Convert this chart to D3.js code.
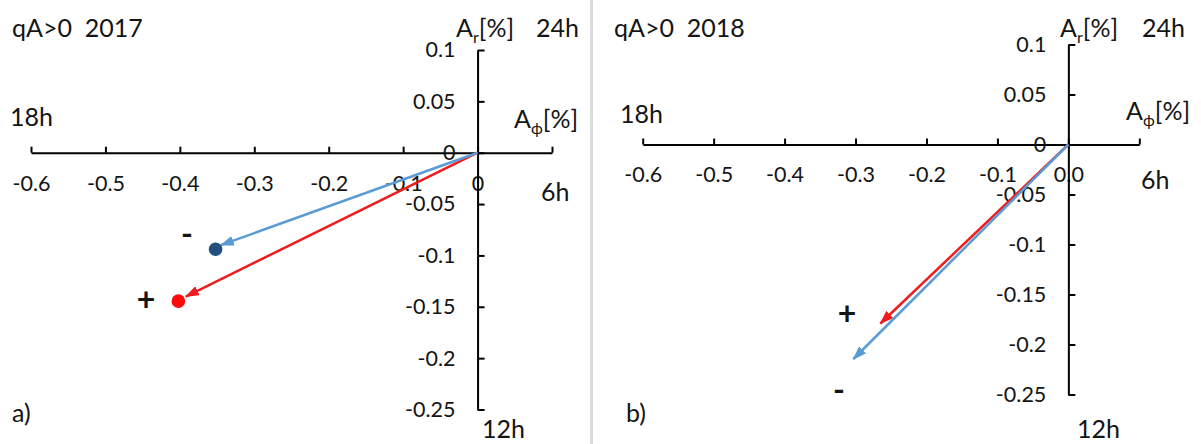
<!DOCTYPE html>
<html><head><meta charset="utf-8">
<script src="https://cdn.jsdelivr.net/npm/d3@7"></script>
<style>
body{margin:0;background:#fff}
svg{display:block}
text{font-family:Lato,"Open Sans","DejaVu Sans",sans-serif;fill:#141414}
</style>
</head><body><svg id="c" width="1201" height="444"></svg>
<script>
// ---------- data ----------
const xTicks=[-0.6,-0.5,-0.4,-0.3,-0.2,-0.1,0,0.1];
const xTickLabels2017=["-0.6","-0.5","-0.4","-0.3","-0.2","-0.1","0",""];
const xTickLabels2018=["-0.6","-0.5","-0.4","-0.3","-0.2","-0.1","0.0",""];
const yTicks=[0.1,0.05,0,-0.05,-0.1,-0.15,-0.2,-0.25];
const yTickLabels=["0.1","0.05","0","-0.05","-0.1","-0.15","-0.2","-0.25"];
const seriesNames=["+","-"];
// arrow end points [A_phi, A_r] per series (+, -)
const arrowPhi2017=[-0.392,-0.345];
const arrowR2017=[-0.140,-0.090];
const dotPhi2017=[-0.402,-0.352];
const dotR2017=[-0.1445,-0.094];
const arrowPhi2018=[-0.265,-0.303];
const arrowR2018=[-0.179,-0.2145];
const titles=["qA>0  2017","qA>0  2018"];
const panelTags=["a)","b)"];

// ---------- styles ----------
const arrowColors=["#ee1c1c","#5b9bd5"];
const dotColors=["#ff0a0a","#22507f"];

const svg=d3.select("#c");
svg.append("rect").attr("x",590).attr("y",0).attr("width",3).attr("height",444).attr("fill","#dcdcdc");

const defs=svg.append("defs");
arrowColors.forEach((c,i)=>{
  defs.append("marker").attr("id","ah"+i).attr("viewBox","0 0 14 10")
    .attr("refX",13).attr("refY",5).attr("markerWidth",14).attr("markerHeight",10)
    .attr("markerUnits","userSpaceOnUse").attr("orient","auto")
    .append("path").attr("d","M0,0L14,5L0,10Z").attr("fill",c);
});

const panels=[
  {xr:[31,552], yr:[50,409.5], yLabPad:22, xLabPad:23, xLabels:xTickLabels2017,
   aPhi:arrowPhi2017, aR:arrowR2017, dPhi:dotPhi2017, dR:dotR2017,
   title:[12,37], ar:[456,37], h24:[536,37], h18:[10,126], aphi:[514,128], h6:[541,201], h12:[482,438], tag:[12,422],
   signs:[[146,298],[187,232]], title_i:0},
  {xr:[642.7,1139.3], yr:[44.5,394.5], yLabPad:22, xLabPad:22, xLabels:xTickLabels2018,
   aPhi:arrowPhi2018, aR:arrowR2018, dPhi:null, dR:null,
   title:[614,37], ar:[1060,37], h24:[1142,37], h18:[620,123], aphi:[1126,120], h6:[1141,189], h12:[1077,438], tag:[626,422],
   signs:[[847,312],[839,388]], title_i:1}
];

function txt(g,s,x,y,size,anchor){
  return g.append("text").attr("x",x).attr("y",y).attr("font-size",size)
    .attr("text-anchor",anchor||"start").style("white-space","pre").text(s);
}

panels.forEach((p,pi)=>{
  const g=svg.append("g");
  const x=d3.scaleLinear().domain([xTicks[0],xTicks[xTicks.length-1]]).range(p.xr);
  const y=d3.scaleLinear().domain([yTicks[0],yTicks[yTicks.length-1]]).range(p.yr);
  const x0=x(0), y0=y(0);

  const xa=g.append("g").attr("transform",`translate(0,${y0})`)
    .call(d3.axisBottom(x).tickValues(xTicks).tickSizeInner(-6).tickSizeOuter(0).tickPadding(p.xLabPad)
      .tickFormat((d,i)=>p.xLabels[i]));
  const ya=g.append("g").attr("transform",`translate(${x0},0)`)
    .call(d3.axisLeft(y).tickValues(yTicks).tickSizeInner(-7).tickSizeOuter(0).tickPadding(p.yLabPad)
      .tickFormat((d,i)=>yTickLabels[i]));
  [xa,ya].forEach(a=>{
    a.attr("font-family",null).attr("font-size",null);
    a.selectAll("path.domain").attr("stroke","#000").attr("stroke-width",2);
    a.selectAll(".tick line").attr("stroke","#000").attr("stroke-width",2);
    a.selectAll(".tick text").attr("font-size",21.5).attr("fill","#141414");
  });

  txt(g,titles[p.title_i],p.title[0],p.title[1],25);
  const ar=txt(g,"A",p.ar[0],p.ar[1],25);
  ar.append("tspan").attr("font-size",16).attr("dy",6).text("r");
  ar.append("tspan").attr("dy",-6).text("[%]");
  txt(g,"24h",p.h24[0],p.h24[1],25);
  txt(g,"18h",p.h18[0],p.h18[1],25);
  const ap=txt(g,"A",p.aphi[0],p.aphi[1],25);
  ap.append("tspan").attr("font-size",16).attr("dy",6).text("\u03D5");
  ap.append("tspan").attr("dy",-6).text("[%]");
  txt(g,"6h",p.h6[0],p.h6[1],25);
  txt(g,"12h",p.h12[0],p.h12[1],25);
  txt(g,panelTags[p.title_i],p.tag[0],p.tag[1],25);
  seriesNames.forEach((s,i)=>{
    g.append("text").attr("x",p.signs[i][0]).attr("y",p.signs[i][1]).attr("font-size",32)
      .attr("font-weight","bold")
      .attr("text-anchor","middle").attr("dominant-baseline","central").text(s);
  });

  seriesNames.forEach((s,i)=>{
    g.append("line").attr("x1",x0).attr("y1",y0)
      .attr("x2",x(p.aPhi[i])).attr("y2",y(p.aR[i]))
      .attr("stroke",arrowColors[i]).attr("stroke-width",2.5)
      .attr("marker-end",`url(#ah${i})`);
  });
  if(p.dPhi){
    seriesNames.forEach((s,i)=>{
      g.append("circle").attr("cx",x(p.dPhi[i])).attr("cy",y(p.dR[i])).attr("r",6.8).attr("fill",dotColors[i]);
    });
  }
});
</script>
</body></html>
